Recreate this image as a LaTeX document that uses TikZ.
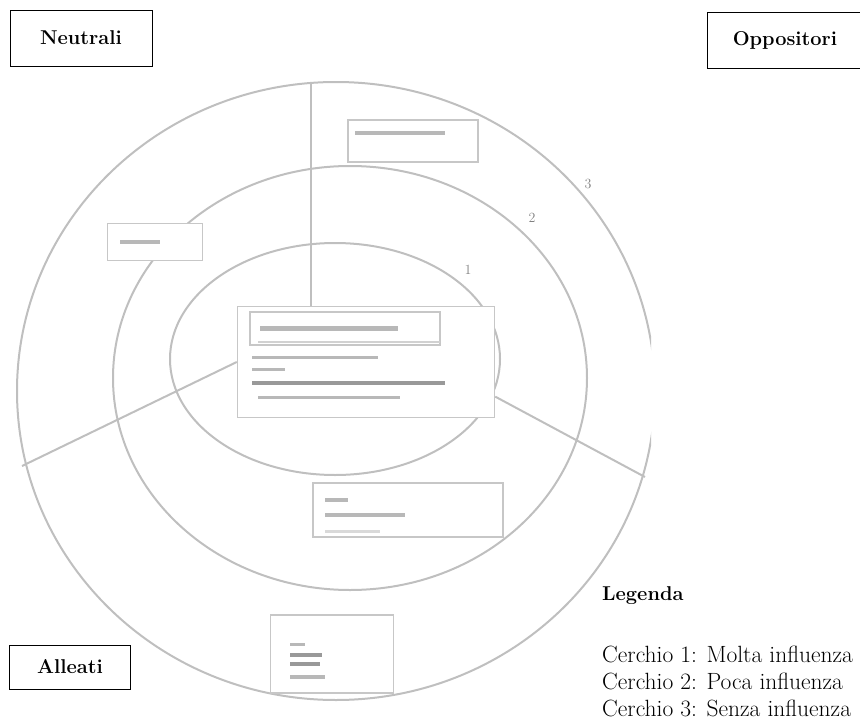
\documentclass[tikz,border=0pt]{standalone}
\usepackage{tikz}
\begin{document}
\begin{tikzpicture}[x=1pt,y=-1pt]
\tikzstyle{every node}=[inner sep=0pt]
\tikzstyle{ring}=[black!25,line width=2pt]
\tikzstyle{sbox}=[draw=black!22,fill=white,line width=1.5pt,rectangle]
\tikzstyle{bar}=[fill=black!28]
\tikzstyle{group}=[draw,line width=1pt,rectangle,font=\fontsize{20}{24}\selectfont\bfseries]
\tikzstyle{num}=[text=black!50,font=\fontsize{14}{14}\selectfont]
\tikzstyle{leg}=[anchor=base west,font=\fontsize{23.5}{26}\selectfont]
\clip (0,0) rectangle (860,720);
% the three rings
\begin{scope}
\clip (0,0) rectangle (651,720);
\draw[ring](336,391) ellipse (319 and 309);
\end{scope}
\draw[ring](350,378) ellipse (237 and 212);
\draw[ring](335,359) ellipse (165 and 116);
\node[num] (n3) at (588,184) {3};
\node[num] (n2) at (532,218) {2};
\node[num] (n1) at (468,270) {1};
% stakeholder boxes
\node[sbox,minimum width=257,minimum height=111] (stake) at (366,362) {};
\node[sbox,minimum width=130,minimum height=42] (top) at (413,141) {};
\node[sbox,minimum width=95,minimum height=37] (left) at (155,242) {};
\node[sbox,minimum width=190,minimum height=54] (mid) at (408,510) {};
\node[sbox,minimum width=123,minimum height=78] (low) at (332,654) {};
\coordinate (t) at (311,82);
\coordinate (w) at (22,466);
\coordinate (e) at (645,477);
\draw[ring](t)--(t|-stake.north);
\draw[ring](w)--(stake.west);
\draw[ring](stake.-15)--(e);
% header of the central box
\draw[black!22,line width=1.2pt](250,312) rectangle (440,345);
\fill[bar](260,326) rectangle (398,331);
\fill[black!18](258,341) rectangle (440,343);
\fill[bar](252,356) rectangle (378,359);
\fill[bar](252,368) rectangle (285,371);
\fill[black!40](252,381) rectangle (445,385);
\fill[bar](258,396) rectangle (400,399);
% text lines in the other boxes
\fill[bar](355,131) rectangle (445,135);
\fill[bar](120,240) rectangle (160,244);
\fill[bar](325,498) rectangle (348,502);
\fill[bar](325,513) rectangle (405,517);
\fill[black!15](325,530) rectangle (380,533);
\fill[bar](290,643) rectangle (305,646);
\fill[black!40](290,653) rectangle (322,657);
\fill[black!40](290,662) rectangle (320,666);
\fill[bar](290,675) rectangle (325,679);
% groups
\node[group,minimum width=142,minimum height=56] (neu) at (81,38) {Neutrali};
\node[group,minimum width=156,minimum height=56] (opp) at (785,40) {Oppositori};
\node[group,minimum width=121,minimum height=44] (all) at (70,667) {Alleati};
% legend
\node[anchor=base west,font=\fontsize{20}{24}\selectfont\bfseries] (legenda) at (602,600) {Legenda};
\node[leg] (c1) at (602,662) {Cerchio 1: Molta influenza};
\node[leg] (c2) at (602,689) {Cerchio 2: Poca influenza};
\node[leg] (c3) at (602,716) {Cerchio 3: Senza influenza};
\end{tikzpicture}
\end{document}
